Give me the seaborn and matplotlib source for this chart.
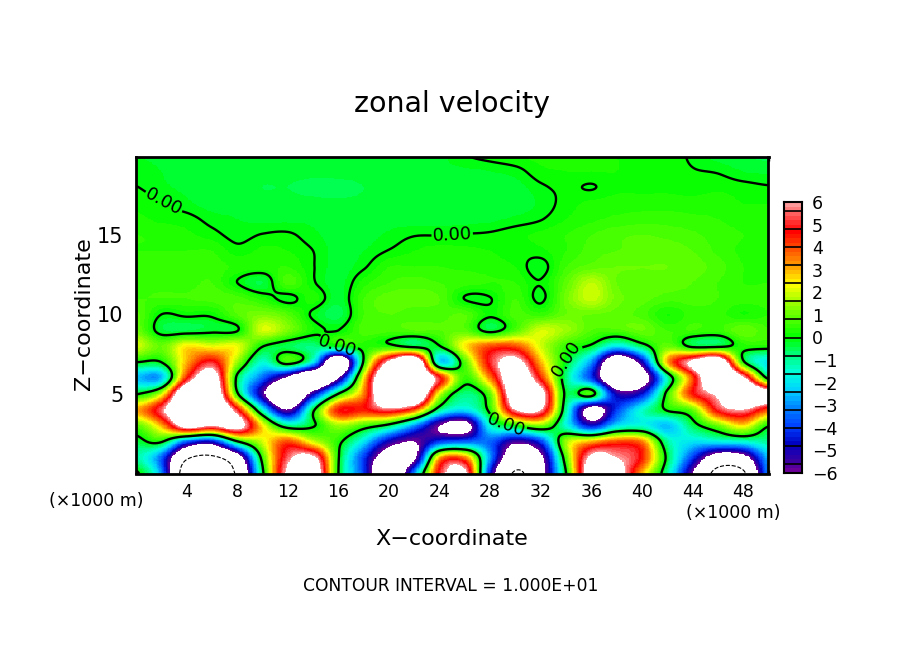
import numpy as np
import matplotlib
matplotlib.use("Agg")
import matplotlib.pyplot as plt
from matplotlib.colors import LinearSegmentedColormap, BoundaryNorm
import seaborn as sns

x_km = np.arange(0, 51, 2.0)
z_km = np.arange(0, 21, 1.0)

u_z00 = [0.2,-3,-12,-12,-9.5,-0.3,6.5,8,0,-4,-9.5,-3,5,6.5,-4.5,-10.3,-7,0,7.5,7,3,-1,-6,-11,-10.5,-3]
u_z01 = [-1,-3.5,-9.5,-10.5,-7.5,0.5,5.5,6.5,0.1,-4,-7.5,-6.5,3,3.5,-3,-8,-6.5,0.8,6.5,6,4.5,-0.3,-4,-7.5,-7,-2.5]
u_z02 = [-0.4,0.1,-3.5,-4.5,-0.2,2,4,2,0.3,-2,-5,-6,-4,-3.5,-3.5,-5.5,-4,1.5,3,4,3.5,-1,-2,-1.8,-1.5,-1]
u_z03 = [0.8,3,7,6,7,2.5,-0.7,-0.1,1.5,0.6,-0.5,-3,-6,-7,-1.5,0.05,1.2,-1.5,-4.5,-2,-1.5,-2.5,-0.5,1,2.5,0.1]
u_z04 = [3,5.5,9.5,9.5,5,-1.5,-6,-0.3,4.5,4.5,5.5,4,-0.8,-2,0.4,6,6,-1,-7,-4,-1.5,0.1,1,5,6,4]
u_z05 = [-0.1,2,9,9,0.3,-5.5,-9.5,-5,0.1,3.5,9.5,9.8,2,-0.8,1,8,7,-0.3,0.5,-5,-4.5,0.4,4.5,6.5,9.5,7.5]
u_z06 = [-2.5,-2.5,4.5,7.5,-0.3,-3.5,-6.5,-9.5,-6,2.5,9.5,9.8,5,0.5,3.5,8,4.5,-0.8,-4,-9,-7.5,-1.2,4,9.5,6.5,-0.3]
u_z07 = [0,0,3,5,1.5,-1.5,0.5,-2,-9,0.2,6.5,9,-2,0.8,5,6.8,3,-0.1,-3,-8.5,-5,3,6.5,8.5,0.3,-2]
u_z08 = [2,1,2.5,2.2,2.2,0.05,-0.5,-0.8,-0.1,0.3,0.3,-0.3,-0.05,2.5,4,4,2,0.5,-0.2,-2,-0.5,1,-0.2,-0.2,0.3,0.3]
u_z09 = [1.1,-0.3,-0.4,-0.2,-0.05,2,1.2,0.2,0,0.7,0.7,0.8,0.8,0.9,-0.3,0.8,2,1.5,0.8,0.7,1,0.6,0.6,0.5,1,0.6]
u_z10 = [0.9,0,0.1,0.1,0.8,1.2,0.8,-0.1,-0.5,0.6,0.8,0.7,0.7,0.8,0.1,0.7,0.5,1,1,0.9,0.7,0.2,0.5,0.5,0.2,0.4]
u_z11 = [0.6,0.6,0.6,0.7,0.7,0.3,-0.15,0.3,-0.3,0.6,0.9,0.9,0.8,-0.02,-0.02,0.6,-0.1,1.1,1.9,1.1,0.9,0.7,0.7,0.6,0.5,0.5]
u_z12 = [0.5,0.5,0.5,0.6,0,-0.4,0.7,0.05,-0.3,0.3,0.6,0.7,0.6,0.5,0.4,0.4,0.03,0.9,1.8,1,0.9,0.9,0.8,0.6,0.4,0.4]
u_z13 = [0.5,0.5,0.5,0.5,0.35,0.3,0.4,0.02,-0.3,-0.05,0.4,0.4,0.4,0.35,0.3,0.2,-0.15,0.6,0.9,1,1,1,0.9,0.7,0.4,0.3]
u_z14 = [0.4,0.4,0.4,0.4,0.1,0.25,0.2,0,-0.3,-0.2,0.02,0.2,0.3,0.25,0.2,0.1,0.15,0.4,0.7,0.8,0.85,0.9,0.8,0.55,0.35,0.3]
u_z15 = [0.4,0.35,0.25,0.1,-0.1,0.02,0.05,-0.15,-0.3,-0.3,-0.15,-0.02,-0.01,0.02,0.05,0.15,0.25,0.4,0.6,0.75,0.8,0.75,0.65,0.5,0.4,0.3]
u_z16 = [0.25,0.15,0.1,-0.1,-0.2,-0.25,-0.25,-0.25,-0.3,-0.35,-0.3,-0.3,-0.3,-0.3,-0.25,-0.15,-0.02,0.2,0.35,0.45,0.5,0.5,0.45,0.4,0.3,0.25]
u_z17 = [0.15,0.03,-0.15,-0.3,-0.3,-0.35,-0.35,-0.35,-0.35,-0.35,-0.3,-0.3,-0.3,-0.35,-0.35,-0.35,-0.15,0.1,0.25,0.3,0.3,0.3,0.3,0.3,0.2,0.2]
u_z18 = [0.01,-0.15,-0.25,-0.3,-0.35,-0.4,-0.4,-0.45,-0.5,-0.4,-0.35,-0.35,-0.35,-0.35,-0.35,-0.3,-0.05,0.06,-0.02,0.15,0.15,0.15,0.1,0.15,0.1,0.03]
u_z19 = [-0.1,-0.2,-0.3,-0.35,-0.35,-0.35,-0.35,-0.35,-0.3,-0.3,-0.25,-0.25,-0.25,-0.25,-0.2,-0.1,0.15,0.2,0.2,0.2,0.15,0.1,0.02,-0.03,-0.2,-0.25]
u_z20 = [-0.2,-0.25,-0.3,-0.3,-0.3,-0.3,-0.3,-0.3,-0.3,-0.3,-0.3,-0.3,-0.25,-0.02,0.1,0.2,0.25,0.2,0.2,0.2,0.15,0.1,-0.05,-0.3,-0.4,-0.45]

level_anchors = [-6,-5.6,-4.8,-4,-3.2,-2.4,-1.6,-0.8,0,0.8,1.6,2.4,3.2,4,4.8,5.6,6]
color_anchors = ["#6a0099","#3c00a0","#0000c0","#0040ff","#0080ff","#00d0ff","#00ffdd","#00ff80",
                 "#00ff00","#50ff00","#a0ff00","#ffff00","#ffa000","#ff5000","#ff0000","#ff6060","#ff9a9a"]
bar_ticks = [-6,-5,-4,-3,-2,-1,0,1,2,3,4,5,6]
x_ticks = [4,8,12,16,20,24,28,32,36,40,44,48]
z_ticks = [5,10,15]


def refine(a, old, new, axis):
    a = np.moveaxis(np.asarray(a, float), axis, 0)
    h = old[1] - old[0]
    i = np.clip(np.searchsorted(old, new, side="right") - 1, 0, len(old) - 2)
    t = (new - old[i]) / h
    t = t.reshape((-1,) + (1,) * (a.ndim - 1))
    p0, p1, p2, p3 = a[np.maximum(i - 1, 0)], a[i], a[i + 1], a[np.minimum(i + 2, len(old) - 1)]
    out = 0.5 * (2 * p1 + (p2 - p0) * t + (2 * p0 - 5 * p1 + 4 * p2 - p3) * t**2 + (3 * p1 - p0 - 3 * p2 + p3) * t**3)
    return np.moveaxis(out, 0, axis)


field = np.array([u_z00,u_z01,u_z02,u_z03,u_z04,u_z05,u_z06,u_z07,u_z08,u_z09,u_z10,
                  u_z11,u_z12,u_z13,u_z14,u_z15,u_z16,u_z17,u_z18,u_z19,u_z20])
dx, dz = 0.1, 0.05
xs = np.arange(0, 50 + dx / 2, dx)
zs = np.arange(0, 20 + dz / 2, dz)
fine = refine(refine(field, z_km, zs, 0), x_km, xs, 1)

to_i = lambda x: np.asarray(x) / dx + 0.5
to_j = lambda z: np.asarray(z) / dz + 0.5

sns.set_style("white")
plt.rcParams["font.family"] = ["DejaVu Sans"]
plt.rcParams["axes.unicode_minus"] = True

W, H = 904, 654
fig = plt.figure(figsize=(W / 100, H / 100), dpi=100, facecolor="white")
ax = fig.add_axes([136 / W, 1 - 473.5 / H, (768.5 - 136) / W, (473.5 - 157) / H])

nl = 61
bounds = np.linspace(-6, 6, nl)
cmap = LinearSegmentedColormap.from_list(
    "ncar", [((l + 6) / 12, c) for l, c in zip(level_anchors, color_anchors)], N=nl - 1)
cmap.set_over("white")
cmap.set_under("white")
norm = BoundaryNorm(bounds, cmap.N)

sns.heatmap(fine, ax=ax, cmap=cmap, norm=norm, cbar=False, xticklabels=False, yticklabels=False,
            linewidths=0, rasterized=True)
ax.set_xlim(to_i(0), to_i(50))
ax.set_ylim(to_j(0), to_j(19.9))

I, J = np.meshgrid(to_i(xs), to_j(zs))
cs = ax.contour(I, J, fine, levels=[0], colors="black", linewidths=1.7)
ax.contour(I, J, fine, levels=[-10], colors="black", linewidths=0.8, linestyles="--")


def px(xp, yp):
    return (float(to_i((xp - 136) / 12.65)), float(to_j((473.5 - yp) / 15.9)))


ax.clabel(cs, fmt="%.2f", fontsize=13, inline=True, inline_spacing=1,
          manual=[px(165, 200), px(452, 232), px(337, 350), px(570, 360), px(507, 422)])

ax.set_xticks(to_i(x_ticks))
ax.set_xticklabels([str(v) for v in x_ticks], fontsize=12.5)
ax.set_yticks(to_j(z_ticks))
ax.set_yticklabels([str(v) for v in z_ticks], fontsize=15)
ax.set_xticks(to_i(np.arange(0, 51, 2)), minor=True)
ax.set_yticks(to_j(np.arange(0, 20, 1)), minor=True)
ax.tick_params(axis="x", which="major", pad=7)
ax.tick_params(axis="y", which="major", pad=9)
ax.tick_params(which="major", direction="in", length=6, width=1.5, top=True, right=True, bottom=True, left=True,
               color="black", labelcolor="black")
ax.tick_params(which="minor", direction="in", length=3, width=1, top=True, right=True, bottom=True, left=True,
               color="black")
for s in ax.spines.values():
    s.set_visible(True)
    s.set_linewidth(2)
    s.set_color("black")

fig.text(452 / W, 1 - 104 / H, "zonal velocity", fontsize=20.5, ha="center", va="center", color="black")
fig.text(452 / W, 1 - 539 / H, "X\u2212coordinate", fontsize=16, ha="center", va="center", color="black")
fig.text(84 / W, 1 - 314 / H, "Z\u2212coordinate", fontsize=16, rotation=90, ha="center", va="center", color="black")
fig.text(451 / W, 1 - 586 / H, "CONTOUR INTERVAL = 1.000E+01", fontsize=12.3, ha="center", va="center", color="black")
fig.text(96 / W, 1 - 501 / H, "(\u00d71000 m)", fontsize=12.5, ha="center", va="center", color="black")
fig.text(733 / W, 1 - 513 / H, "(\u00d71000 m)", fontsize=12.5, ha="center", va="center", color="black")

cax = fig.add_axes([784 / W, 1 - 473 / H, 18 / W, (473 - 202) / H])
bar_vals = (bounds[:-1] + bounds[1:]) / 2
sns.heatmap(bar_vals[:, None], ax=cax, cmap=cmap, norm=norm, cbar=False, xticklabels=False, yticklabels=False,
            linewidths=0)
cax.set_ylim(0, nl - 1)
to_c = lambda v: (np.asarray(v) + 6) / 12 * (nl - 1)
cax.hlines(to_c(np.arange(-5.6, 5.7, 0.8)), 0, 1, colors="black", linewidth=1.2)
cax.yaxis.tick_right()
cax.set_yticks(to_c(bar_ticks))
cax.set_yticklabels([str(v).replace("-", "\u2212") for v in bar_ticks], fontsize=12.5, rotation=0)
cax.tick_params(axis="y", length=0, pad=7, colors="black")
for s in cax.spines.values():
    s.set_visible(True)
    s.set_linewidth(1.5)
    s.set_color("black")

fig.savefig("out.png", dpi=100, facecolor="white")
